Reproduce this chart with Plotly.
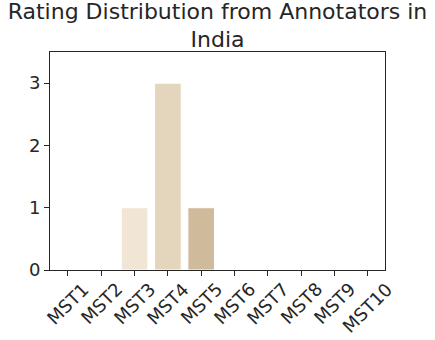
import plotly.graph_objects as go

categories = ["MST1", "MST2", "MST3", "MST4", "MST5", "MST6", "MST7", "MST8", "MST9", "MST10"]
counts = [0, 0, 1, 3, 1, 0, 0, 0, 0, 0]
bar_colors = ["#f6eee2", "#f3e8d7", "#f1e6d5", "#e4d6bd", "#cfbb9c",
              "#b89a74", "#8e6f4f", "#6a4f37", "#4a3625", "#2e2118"]
y_ticks = [0, 1, 2, 3]

TEXT = "#262626"
FONT = "DejaVu Sans"

x_pos = list(range(len(categories)))

fig = go.Figure(go.Bar(
    x=x_pos,
    y=counts,
    width=0.8,
    marker=dict(color=bar_colors, line=dict(color="white", width=1)),
))

# rotated labels centred on each tick, like matplotlib's rotation=45
for xi, label in zip(x_pos, categories):
    fig.add_annotation(
        x=xi, y=0, xref="x", yref="y",
        text=label, showarrow=False, textangle=-45,
        xanchor="center", yanchor="top", yshift=-6,
        font=dict(family=FONT, size=18, color=TEXT),
    )

fig.update_layout(
    width=435, height=340,
    paper_bgcolor="white", plot_bgcolor="white",
    font=dict(family=FONT, color=TEXT, size=18),
    margin=dict(l=50, r=50, t=52, b=70, autoexpand=False),
    showlegend=False,
    title=dict(
        text="Rating Distribution from Annotators in<br>India",
        x=0.5, xref="paper", xanchor="center",
        y=0.945, yref="container", yanchor="top",
        font=dict(size=22, color=TEXT),
    ),
)
fig.update_xaxes(
    range=[-0.54, 9.52],
    tickvals=x_pos, showticklabels=False,
    ticks="outside", ticklen=5, tickcolor=TEXT,
    showline=True, linecolor=TEXT, linewidth=1, mirror=True,
    showgrid=False, zeroline=False, automargin=False,
)
fig.update_yaxes(
    range=[0, 3.5],
    tickvals=y_ticks,
    ticks="outside", ticklen=5, tickcolor=TEXT,
    showline=True, linecolor=TEXT, linewidth=1, mirror=True,
    showgrid=False, zeroline=False, automargin=False,
)

fig.write_html("out.html", config={"displayModeBar": False},
               post_script="document.body.style.margin='0';")
